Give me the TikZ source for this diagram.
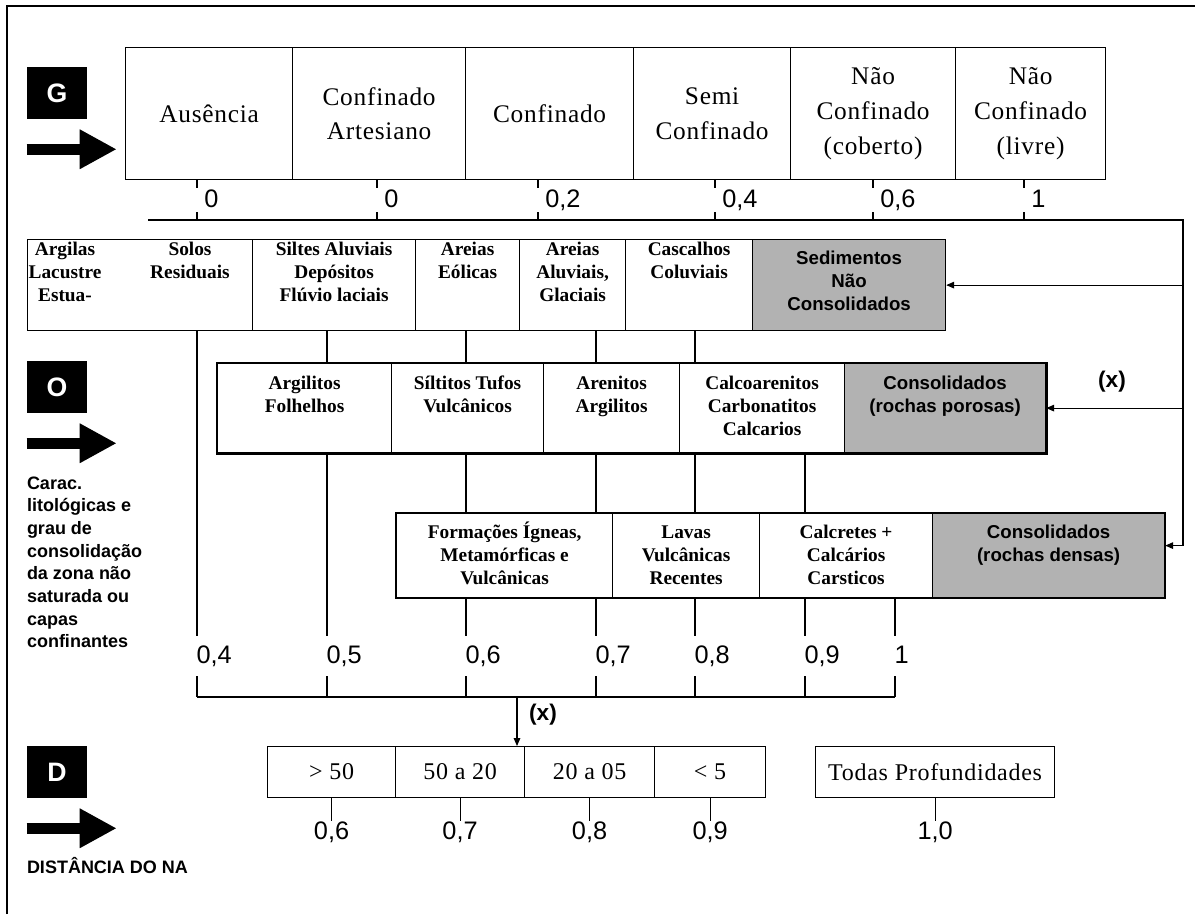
\documentclass[tikz,border=0pt]{standalone}
\usepackage{fontspec}
\setmainfont{Liberation Serif}
\setsansfont{Liberation Sans}
\usepackage{tikz}
\usetikzlibrary{arrows.meta,positioning,calc}
\definecolor{cellgray}{RGB}{178,178,178}
% lines of a cell, first baseline on top
\newcommand{\cellrows}[1]{\begin{tabular}[t]{@{}c@{}}#1\end{tabular}}

\begin{document}
\begin{tikzpicture}[
    x=0.75pt, y=-0.75pt,
    >={Triangle[length=6pt,width=5pt]},
    line/.style={line width=0.8pt},
    arrow/.style={->, line width=0.8pt},
    bigarrow/.style={line width=8.25pt, -{Triangle[length=27.75pt,width=27.75pt]}},
    tag/.style={fill=black, text=white, inner sep=0pt,
                minimum width=45pt, minimum height=39pt,
                font=\sffamily\bfseries\fontsize{20}{20}\selectfont},
    cell/.style={draw, line width=0.9pt, anchor=north west,
                 inner xsep=2pt, minimum width=#1*0.75pt, fill=white},
    gcell/.style={cell=#1, minimum height=99pt, align=center,
                  font=\fontsize{19}{26}\selectfont\addfontfeature{LetterSpace=3}},
    scell/.style={cell=#1, inner ysep=0pt, text height=12pt, text depth=56.25pt,
                  font=\bfseries\fontsize{14.5}{17.25}\selectfont},
    ocell/.style={cell=#1, inner ysep=0pt, text height=19.5pt, text depth=47.25pt,
                  font=\bfseries\fontsize{14.5}{17.25}\selectfont},
    pcell/.style={cell=#1, inner ysep=0pt, text height=18.75pt, text depth=44.25pt,
                  font=\bfseries\fontsize{14.5}{17.25}\selectfont},
    dcell/.style={cell=#1, minimum height=38.25pt, align=center,
                  font=\fontsize{18}{20}\selectfont\addfontfeature{LetterSpace=3}},
    grayfill/.style={fill=cellgray,
                     font=\sffamily\bfseries\fontsize{14}{17.25}\selectfont},
    stext/.style={font=\bfseries\fontsize{14.5}{17.25}\selectfont,
                  anchor=base, inner sep=0pt},
    numg/.style={font=\sffamily\fontsize{19}{19}\selectfont, fill=white,
                 text height=14pt, text depth=3pt,
                 inner xsep=6pt, inner ysep=0.5pt, anchor=west},
    numo/.style={numg, inner xsep=4pt, inner ysep=6.5pt},
    numd/.style={font=\sffamily\fontsize{19}{19}\selectfont, inner sep=0pt,
                 anchor=north},
    xlabel/.style={font=\sffamily\bfseries\fontsize{17}{17}\selectfont},
    side/.style={font=\sffamily\bfseries\fontsize{13.5}{17}\selectfont,
                 align=left, inner sep=0pt},
]
\useasboundingbox (0,0) rectangle (1195,914);
\draw[line width=1.2pt] (7,914) -- (7,6) -- (1195,6);

%% -- G: grau de confinamento ------------------------------------
\node[tag] (tg) at (57,93) {G};
\draw[bigarrow] ($(tg.south west)+(0,30)$) -- ++(90,0);

\node[gcell=167] (g1) at (125,47) {Ausência};
\node[gcell=173] (g2) at (292,47) {Confinado\\Artesiano};
\node[gcell=168] (g3) at (465,47) {Confinado};
\node[gcell=157] (g4) at (633,47) {Semi\\Confinado};
\node[gcell=165] (g5) at (790,47) {Não\\Confinado\\(coberto)};
\node[gcell=150] (g6) at (955,47) {Não\\Confinado\\(livre)};

\coordinate (gl) at (148,220);
\coordinate (gr) at (1183,220);
\foreach \n/\x/\v in {1/197/0, 2/377/0, 3/538/{0,2}, 4/715/{0,4},
                      5/873/{0,6}, 6/1024/1} {
  \coordinate (gt\n) at (\x,220);
  \draw[line] (g\n.south -| gt\n) -- (gt\n);
  \node[numg] (gv\n) at ($(gt\n)+(-1,-20)$) {\v};
}

%% -- O: sedimentos nao consolidados -----------------------------
\node[scell=225] (sa) at (27,239) {};
\node[stext] (sa1) at (65,255) {\cellrows{Argilas\\Lacustre\\Estua-}};
\node[stext] (sa2) at (190,255) {\cellrows{Solos\\Residuais}};
\node[scell=163] (sb) at (252,239) {\cellrows{Siltes Aluviais\\Depósitos\\Flúvio laciais}};
\node[scell=104] (sc) at (415,239) {\cellrows{Areias\\Eólicas}};
\node[scell=106] (sd) at (519,239) {\cellrows{Areias\\Aluviais,\\Glaciais}};
\node[scell=127] (se) at (625,239) {\cellrows{Cascalhos\\Coluviais}};
\node[scell=193, grayfill, text height=19pt, text depth=49.25pt]
  (sg) at (752,239) {\cellrows{Sedimentos\\Não\\Consolidados}};

%% -- O: rochas porosas ------------------------------------------
\node[ocell=174] (o2a) at (217,363) {\cellrows{Argilitos\\Folhelhos}};
\node[ocell=152] (o2b) at (391,363) {\cellrows{Síltitos Tufos\\Vulcânicos}};
\node[ocell=136] (o2c) at (543,363) {\cellrows{Arenitos\\Argilitos}};
\node[ocell=165] (o2d) at (679,363) {\cellrows{Calcoarenitos\\Carbonatitos\\Calcarios}};
\node[ocell=201, grayfill] (o2g) at (844,363) {\cellrows{Consolidados\\(rochas porosas)}};
\draw[line width=2pt] (o2a.north west) rectangle (o2g.south east);

%% -- O: rochas densas -------------------------------------------
\node[pcell=216] (o3a) at (396,513) {\cellrows{Formações Ígneas,\\Metamórficas e\\Vulcânicas}};
\node[pcell=147] (o3b) at (612,513) {\cellrows{Lavas\\Vulcânicas\\Recentes}};
\node[pcell=173] (o3c) at (759,513) {\cellrows{Calcretes +\\Calcários\\Carsticos}};
\node[pcell=232, grayfill] (o3g) at (932,513) {\cellrows{Consolidados\\(rochas densas)}};
\draw[line width=1.6pt] (o3a.north west) rectangle (o3g.south east);

\node[tag] (to) at (57,387) {O};
\draw[bigarrow] ($(to.south west)+(0,30)$) -- ++(90,0);
\node[side, anchor=north west] (carac) at ($(to.south west)+(0,63)$)
  {Carac.\\litológicas e\\grau de\\consolidação\\da zona não\\saturada ou\\capas\\confinantes};

%% right feed line with (x)
\coordinate (ra) at ($(o3g.east)+(0,-10)$);
\draw[arrow] (gl) -- (gr) |- (ra);
\draw[arrow] (gr |- sg.east) -- (sg.east);
\draw[arrow] (gr |- o2g.east) -- (o2g.east);
\node[xlabel] (xo) at (1112,382) {(x)};

%% -- O scale -----------------------------------------------------
\foreach \n/\x in {4/197, 5/327, 6/466, 7/596, 8/695, 9/805, 10/895}
  \coordinate (b\n) at (\x,697);

\draw[line] (sa.south -| b4) -- (b4);
\draw[line] (sb.south -| b5) -- (o2a.north -| b5);
\draw[line] (o2a.south -| b5) -- (b5);
\draw[line] (sc.south -| b6) -- (o2b.north -| b6);
\draw[line] (o2b.south -| b6) -- (o3a.north -| b6);
\draw[line] (o3a.south -| b6) -- (b6);
\draw[line] (sd.south -| b7) -- (o2c.north -| b7);
\draw[line] (o2c.south -| b7) -- (o3a.north -| b7);
\draw[line] (o3a.south -| b7) -- (b7);
\draw[line] (se.south -| b8) -- (o2d.north -| b8);
\draw[line] (o2d.south -| b8) -- (o3b.north -| b8);
\draw[line] (o3b.south -| b8) -- (b8);
\draw[line] (o2d.south -| b9) -- (o3c.north -| b9);
\draw[line] (o3c.south -| b9) -- (b9);
\draw[line] (o3c.south -| b10) -- (b10);
\draw[line] (b4) -- (b10);

\foreach \n/\v in {4/{0,4}, 5/{0,5}, 6/{0,6}, 7/{0,7}, 8/{0,8}, 9/{0,9}, 10/1}
  \node[numo] (ov\n) at ($(b\n)+(-6,-41)$) {\v};

%% -- D: distancia do NA -----------------------------------------
\coordinate (bm) at (517,697);
\node[dcell=128] (d1) at (267,746) {> 50};
\node[dcell=129] (d2) at (395,746) {50 a 20};
\node[dcell=130] (d3) at (524,746) {20 a 05};
\node[dcell=111] (d4) at (654,746) {< 5};
\node[dcell=239] (dt) at (815,746) {Todas Profundidades};

\draw[arrow] (bm) -- (bm |- d2.north);
\node[xlabel] (xd) at (543,715) {(x)};

\foreach \n/\v in {1/{0,6}, 2/{0,7}, 3/{0,8}, 4/{0,9}}
  \draw[line] (d\n.south) -- ++(0,23) node[numd] (dv\n) {\v};
\draw[line] (dt.south) -- ++(0,23) node[numd] (dvt) {1,0};

\node[tag] (td) at (57,772) {D};
\draw[bigarrow] ($(td.south west)+(0,30)$) -- ++(90,0);
\node[side, anchor=base west] (dna) at ($(td.south west)+(0,75)$)
  {DISTÂNCIA DO NA};

\end{tikzpicture}
\end{document}
